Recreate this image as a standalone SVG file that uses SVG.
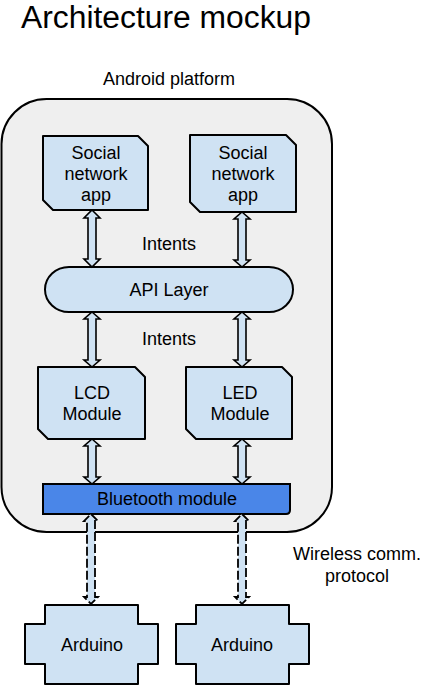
<svg xmlns="http://www.w3.org/2000/svg" width="423" height="686" viewBox="0 0 423 686">
<style>
text{font-family:"Liberation Sans",Arial,sans-serif;font-size:18px;fill:#000;text-anchor:middle}
.title{font-size:31px;text-anchor:start}
.n{fill:#cfe2f3;stroke:#000;stroke-width:2;stroke-linejoin:round}
.bt{fill:#4a86e8;stroke:#000;stroke-width:2}
.cont{fill:#efefef;stroke:#000;stroke-width:2}
.a{fill:#cfe2f3;stroke:#000;stroke-width:1.6;stroke-linejoin:miter}
.d{stroke-dasharray:9,3;stroke-width:1.8}
</style>
<rect width="423" height="686" fill="#fff"/>
<text class="title" x="21" y="28.3" textLength="290" lengthAdjust="spacingAndGlyphs">Architecture mockup</text>
<g id="android">
<text x="169" y="85">Android platform</text>
<rect class="cont" x="1.5" y="99" width="330.5" height="433" rx="45" ry="45"/>
</g>
<g id="app1">
<path class="n" d="M43,136 H138 L148,146 V210 H53 L43,200 Z"/>
<text x="96" y="159">Social</text><text x="96" y="180">network</text><text x="96" y="201">app</text>
</g>
<g id="app2">
<path class="n" d="M190,135 H286 L296,145 V212 H200 L190,202 Z"/>
<text x="243" y="159">Social</text><text x="243" y="180">network</text><text x="243" y="201">app</text>
</g>
<g id="api">
<rect class="n" x="45" y="267" width="248" height="45" rx="24" ry="22.5"/>
<text x="169" y="296">API Layer</text>
</g>
<g id="lcd">
<path class="n" d="M38,367 H135 L145,377 V439 H48 L38,429 Z"/>
<text x="92" y="399">LCD</text><text x="92" y="420">Module</text>
</g>
<g id="led">
<path class="n" d="M186,367 H282 L292,377 V439 H196 L186,429 Z"/>
<text x="240" y="399">LED</text><text x="240" y="420">Module</text>
</g>
<g id="bluetooth">
<path class="bt" d="M43,484 H290 V510 Q290,514 286,514 H43 Z"/>
<text x="167" y="505">Bluetooth module</text>
</g>
<g id="arduino1">
<path class="n" d="M45,605 H138 V624 H158 V664 H138 V684 H45 V664 H25 V624 H45 Z"/>
<text x="92" y="651">Arduino</text>
</g>
<g id="arduino2">
<path class="n" d="M196,605 H289 V624 H309 V664 H289 V684 H196 V664 H176 V624 H196 Z"/>
<text x="242" y="651">Arduino</text>
</g>
<g id="labels">
<text x="169" y="250">Intents</text>
<text x="169" y="345">Intents</text>
<text x="357" y="560">Wireless comm.</text>
<text x="357" y="582">protocol</text>
</g>
<g id="connectors">
<path class="a" d="M92,210 L100,218 L96,218 L96,259 L100,259 L92,267 L84,259 L88,259 L88,218 L84,218 Z"/>
<path class="a" d="M242,212 L250,219 L246,219 L246,260 L250,260 L242,267 L234,260 L238,260 L238,219 L234,219 Z"/>
<path class="a" d="M92,312 L100,319 L96,319 L96,360 L100,360 L92,367 L84,360 L88,360 L88,319 L84,319 Z"/>
<path class="a" d="M242,312 L250,319 L246,319 L246,360 L250,360 L242,367 L234,360 L238,360 L238,319 L234,319 Z"/>
<path class="a" d="M92,439 L100,446 L96,446 L96,477 L100,477 L92,484 L84,477 L88,477 L88,446 L84,446 Z"/>
<path class="a" d="M242,439 L250,446 L246,446 L246,477 L250,477 L242,484 L234,477 L238,477 L238,446 L234,446 Z"/>
<path class="a d" d="M91,514 L98,521 L95,521 L95,597 L98,597 L91,604 L84,597 L87,597 L87,521 L84,521 Z"/>
<path class="a d" d="M242,514 L249,521 L246,521 L246,597 L249,597 L242,604 L235,597 L238,597 L238,521 L235,521 Z"/>
</g>
</svg>
